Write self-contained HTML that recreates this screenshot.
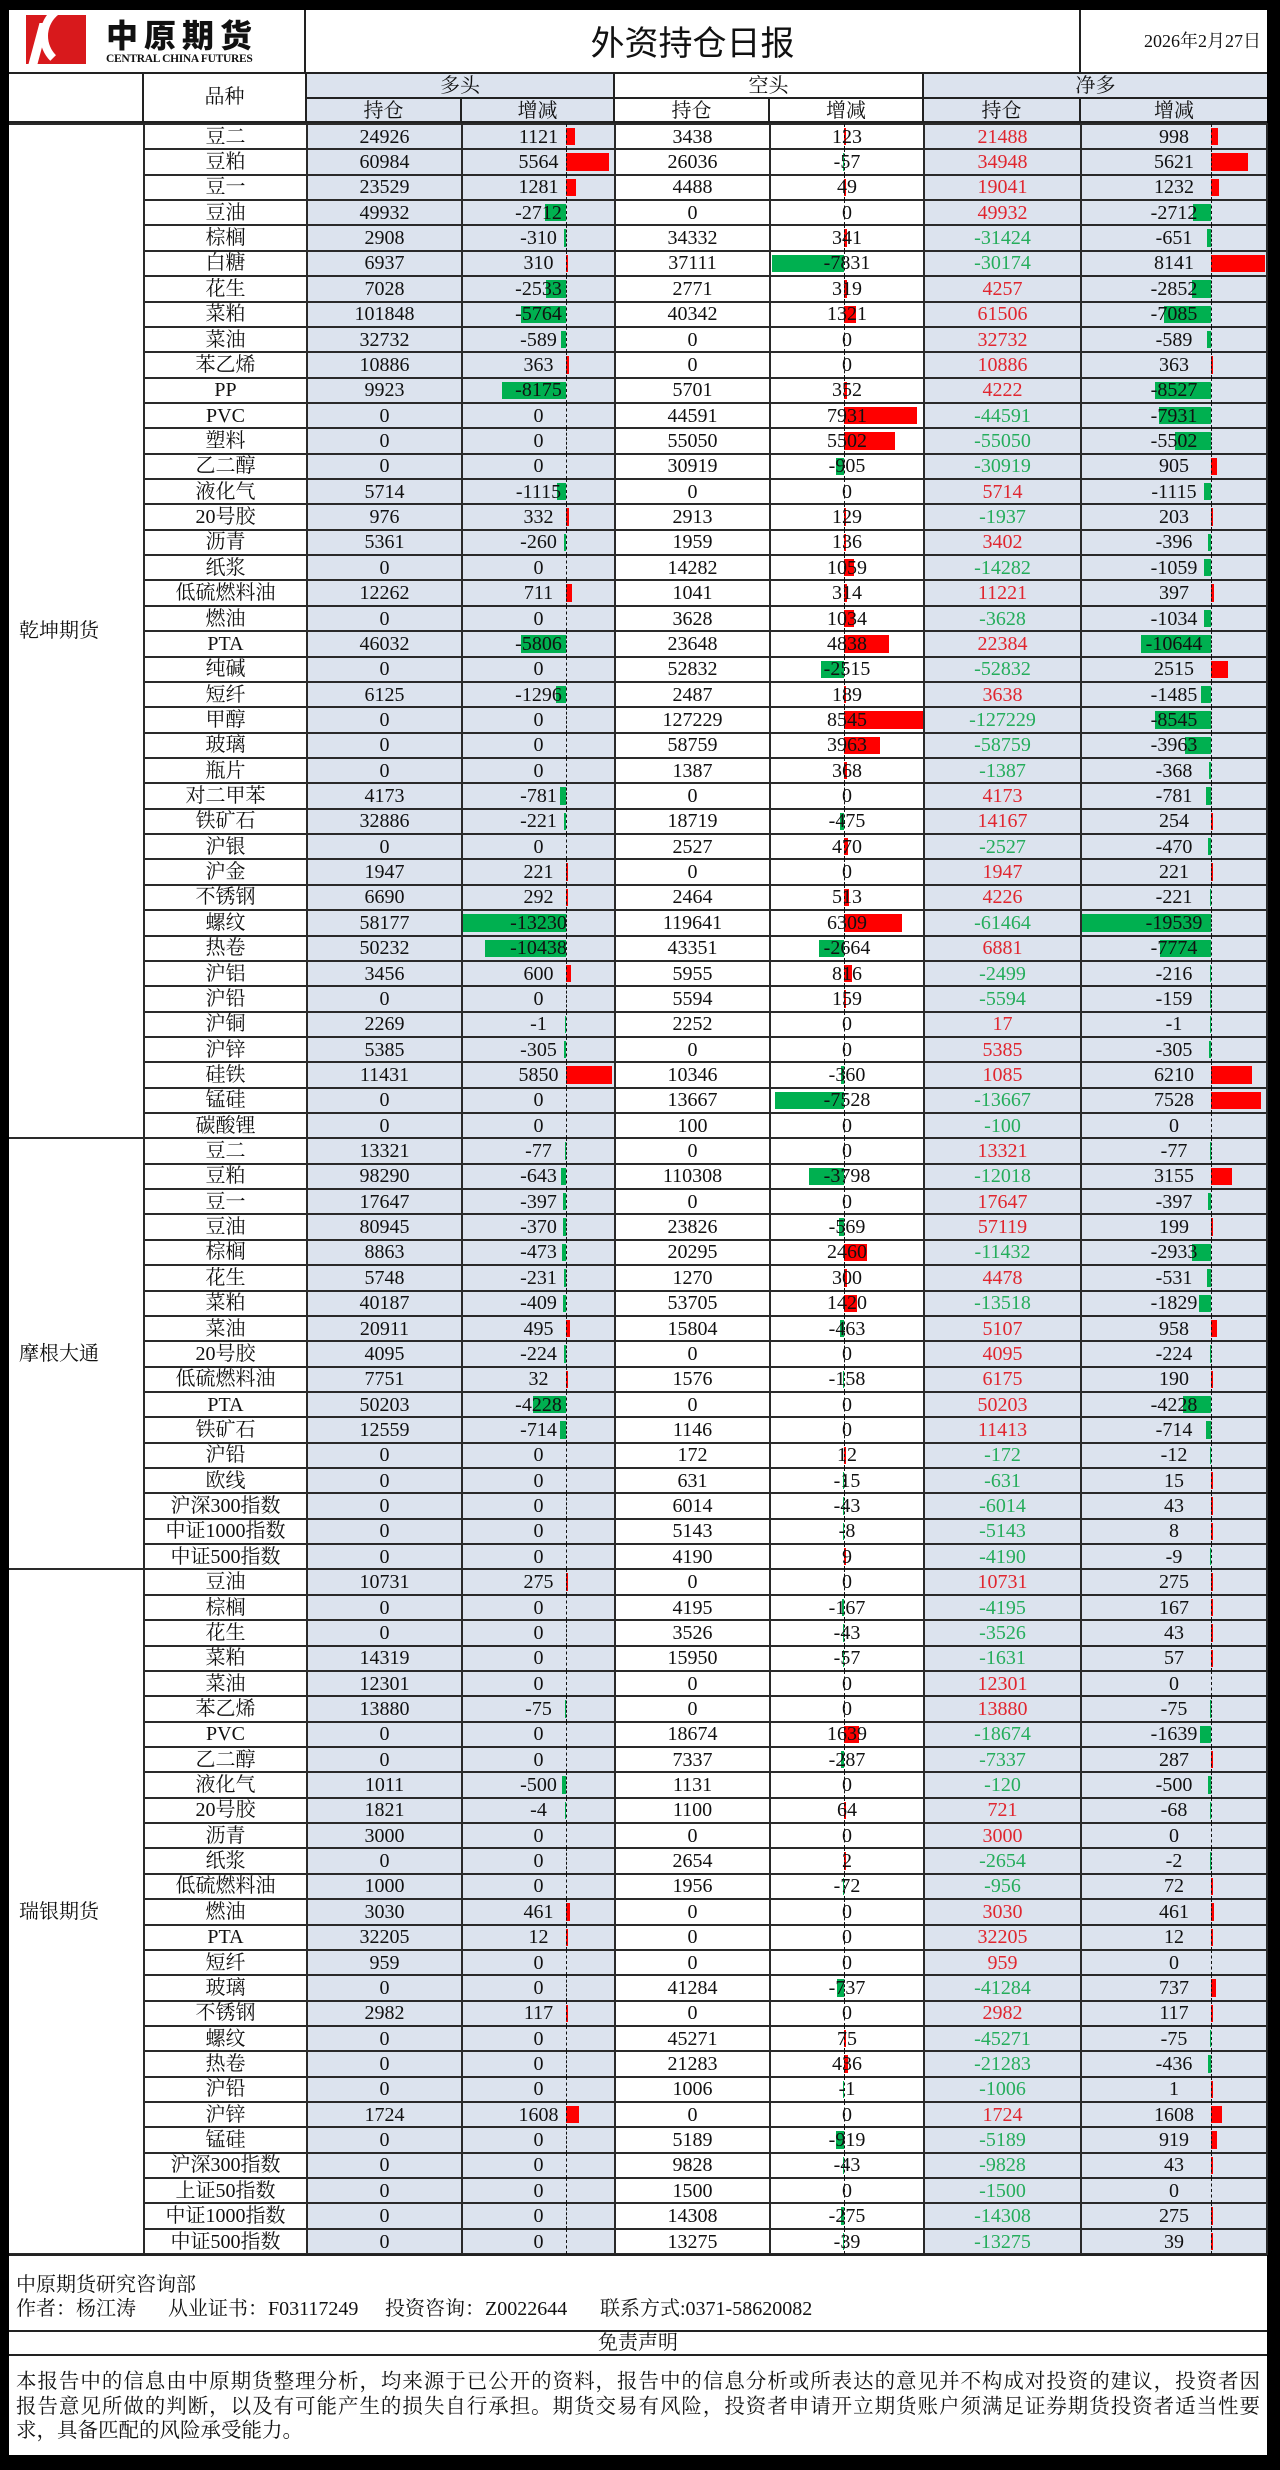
<!DOCTYPE html>
<html><head><meta charset="utf-8">
<style>
*{margin:0;padding:0;box-sizing:border-box}
body{width:1280px;height:2470px;background:#000;position:relative;overflow:hidden;font-family:"Liberation Serif","Noto Serif CJK SC",serif;color:#111}
.abs{position:absolute}
#top{left:9px;top:10px;width:1258px;height:62px;background:#fff}
.hb{position:absolute;top:0;height:62px;border-right:2px solid #222}
#hdr{left:9px;top:72px;width:1258px;height:51px;background:#fff;border-top:2px solid #222}
.hc{position:absolute;text-align:center;font-size:20px;line-height:24px;border-right:2px solid #222;border-bottom:2px solid #222}
.blue{background:#dce3ee}
table{position:absolute;left:9px;top:123px;width:1258px;border-collapse:collapse;table-layout:fixed;background:#fff}
td{border:2px solid #2a2a2a;text-align:center;font-size:20px;line-height:20px;height:25.37px;padding:0;position:relative;white-space:nowrap}
td.g{text-align:left;padding-left:10px;vertical-align:middle;border-left:none}
td.b{background:#dce3ee}
td span.t{position:relative;z-index:1}
.bar{position:absolute;top:3px;bottom:3px;z-index:0}
.ax{position:absolute;top:-1px;bottom:-1px;border-left:1.5px dashed #111;z-index:2}
.r{color:#e0262f}.gn{color:#25ad5c}
#foot{left:9px;top:2254px;width:1258px;height:201px;background:#fff;border-top:2px solid #222}
</style></head><body>
<div id="top" class="abs">
  <div class="hb" style="left:0;width:297px;">
    <div class="abs" style="left:17px;top:5px;width:60px;height:49px;background:#d8191c;overflow:hidden">
      <div class="abs" style="left:14px;top:-14px;width:70px;height:70px;border-radius:50%;border:8px solid #fff;border-right-color:transparent;border-bottom-color:transparent"></div>
      <div class="abs" style="left:8px;top:8px;width:9px;height:41px;background:#fff;transform:skewX(-15deg)"></div>
    </div>
    <div class="abs" style="left:97px;top:5px;font-family:'Noto Sans CJK SC',sans-serif;font-weight:900;font-size:32px;letter-spacing:6px;line-height:38px">中原期货</div>
    <div class="abs" style="left:97px;top:42px;font-family:'Liberation Serif',serif;font-weight:bold;font-size:11.5px;letter-spacing:-0.3px;line-height:14px">CENTRAL CHINA FUTURES</div>
  </div>
  <div class="hb" style="left:297px;width:775px;text-align:center;font-size:34px;line-height:62px;font-family:'Noto Sans CJK SC',sans-serif">外资持仓日报</div>
  <div class="abs" style="left:1072px;width:186px;top:0;height:62px;text-align:right;padding-right:6px;font-size:18px;line-height:62px">2026年2月27日</div>
</div>
<div id="hdr" class="abs">
  <div class="hc" style="left:0;top:0;width:135px;height:49px;border-bottom:2px solid #222"></div>
  <div class="hc" style="left:135px;top:0;width:163px;height:49px;line-height:46px;border-bottom:2px solid #222">品种</div>
  <div class="hc blue" style="left:298px;top:0;width:308px;height:25px">多头</div>
  <div class="hc" style="left:606px;top:0;width:309px;height:25px">空头</div>
  <div class="hc blue" style="left:915px;top:0;width:343px;height:25px;border-right:none">净多</div>
  <div class="hc blue" style="left:298px;top:25px;width:155px;height:24px">持仓</div>
  <div class="hc blue" style="left:453px;top:25px;width:153px;height:24px">增减</div>
  <div class="hc" style="left:606px;top:25px;width:155px;height:24px">持仓</div>
  <div class="hc" style="left:761px;top:25px;width:154px;height:24px">增减</div>
  <div class="hc blue" style="left:915px;top:25px;width:157px;height:24px">持仓</div>
  <div class="hc blue" style="left:1072px;top:25px;width:186px;height:24px;border-right:none">增减</div>
</div>
<table id="tb">
<colgroup><col style="width:135px"><col style="width:163px"><col style="width:155px"><col style="width:153px"><col style="width:155px"><col style="width:154px"><col style="width:157px"><col style="width:186px"></colgroup>
<tbody>
<tr><td rowspan="40" class="g">乾坤期货</td><td>豆二</td><td>24926</td><td>1121</td><td>3438</td><td>123</td><td>21488</td><td>998</td></tr>
<tr><td>豆粕</td><td>60984</td><td>5564</td><td>26036</td><td>-57</td><td>34948</td><td>5621</td></tr>
<tr><td>豆一</td><td>23529</td><td>1281</td><td>4488</td><td>49</td><td>19041</td><td>1232</td></tr>
<tr><td>豆油</td><td>49932</td><td>-2712</td><td>0</td><td>0</td><td>49932</td><td>-2712</td></tr>
<tr><td>棕榈</td><td>2908</td><td>-310</td><td>34332</td><td>341</td><td>-31424</td><td>-651</td></tr>
<tr><td>白糖</td><td>6937</td><td>310</td><td>37111</td><td>-7831</td><td>-30174</td><td>8141</td></tr>
<tr><td>花生</td><td>7028</td><td>-2533</td><td>2771</td><td>319</td><td>4257</td><td>-2852</td></tr>
<tr><td>菜粕</td><td>101848</td><td>-5764</td><td>40342</td><td>1321</td><td>61506</td><td>-7085</td></tr>
<tr><td>菜油</td><td>32732</td><td>-589</td><td>0</td><td>0</td><td>32732</td><td>-589</td></tr>
<tr><td>苯乙烯</td><td>10886</td><td>363</td><td>0</td><td>0</td><td>10886</td><td>363</td></tr>
<tr><td>PP</td><td>9923</td><td>-8175</td><td>5701</td><td>352</td><td>4222</td><td>-8527</td></tr>
<tr><td>PVC</td><td>0</td><td>0</td><td>44591</td><td>7931</td><td>-44591</td><td>-7931</td></tr>
<tr><td>塑料</td><td>0</td><td>0</td><td>55050</td><td>5502</td><td>-55050</td><td>-5502</td></tr>
<tr><td>乙二醇</td><td>0</td><td>0</td><td>30919</td><td>-905</td><td>-30919</td><td>905</td></tr>
<tr><td>液化气</td><td>5714</td><td>-1115</td><td>0</td><td>0</td><td>5714</td><td>-1115</td></tr>
<tr><td>20号胶</td><td>976</td><td>332</td><td>2913</td><td>129</td><td>-1937</td><td>203</td></tr>
<tr><td>沥青</td><td>5361</td><td>-260</td><td>1959</td><td>136</td><td>3402</td><td>-396</td></tr>
<tr><td>纸浆</td><td>0</td><td>0</td><td>14282</td><td>1059</td><td>-14282</td><td>-1059</td></tr>
<tr><td>低硫燃料油</td><td>12262</td><td>711</td><td>1041</td><td>314</td><td>11221</td><td>397</td></tr>
<tr><td>燃油</td><td>0</td><td>0</td><td>3628</td><td>1034</td><td>-3628</td><td>-1034</td></tr>
<tr><td>PTA</td><td>46032</td><td>-5806</td><td>23648</td><td>4838</td><td>22384</td><td>-10644</td></tr>
<tr><td>纯碱</td><td>0</td><td>0</td><td>52832</td><td>-2515</td><td>-52832</td><td>2515</td></tr>
<tr><td>短纤</td><td>6125</td><td>-1296</td><td>2487</td><td>189</td><td>3638</td><td>-1485</td></tr>
<tr><td>甲醇</td><td>0</td><td>0</td><td>127229</td><td>8545</td><td>-127229</td><td>-8545</td></tr>
<tr><td>玻璃</td><td>0</td><td>0</td><td>58759</td><td>3963</td><td>-58759</td><td>-3963</td></tr>
<tr><td>瓶片</td><td>0</td><td>0</td><td>1387</td><td>368</td><td>-1387</td><td>-368</td></tr>
<tr><td>对二甲苯</td><td>4173</td><td>-781</td><td>0</td><td>0</td><td>4173</td><td>-781</td></tr>
<tr><td>铁矿石</td><td>32886</td><td>-221</td><td>18719</td><td>-475</td><td>14167</td><td>254</td></tr>
<tr><td>沪银</td><td>0</td><td>0</td><td>2527</td><td>470</td><td>-2527</td><td>-470</td></tr>
<tr><td>沪金</td><td>1947</td><td>221</td><td>0</td><td>0</td><td>1947</td><td>221</td></tr>
<tr><td>不锈钢</td><td>6690</td><td>292</td><td>2464</td><td>513</td><td>4226</td><td>-221</td></tr>
<tr><td>螺纹</td><td>58177</td><td>-13230</td><td>119641</td><td>6309</td><td>-61464</td><td>-19539</td></tr>
<tr><td>热卷</td><td>50232</td><td>-10438</td><td>43351</td><td>-2664</td><td>6881</td><td>-7774</td></tr>
<tr><td>沪铝</td><td>3456</td><td>600</td><td>5955</td><td>816</td><td>-2499</td><td>-216</td></tr>
<tr><td>沪铅</td><td>0</td><td>0</td><td>5594</td><td>159</td><td>-5594</td><td>-159</td></tr>
<tr><td>沪铜</td><td>2269</td><td>-1</td><td>2252</td><td>0</td><td>17</td><td>-1</td></tr>
<tr><td>沪锌</td><td>5385</td><td>-305</td><td>0</td><td>0</td><td>5385</td><td>-305</td></tr>
<tr><td>硅铁</td><td>11431</td><td>5850</td><td>10346</td><td>-360</td><td>1085</td><td>6210</td></tr>
<tr><td>锰硅</td><td>0</td><td>0</td><td>13667</td><td>-7528</td><td>-13667</td><td>7528</td></tr>
<tr><td>碳酸锂</td><td>0</td><td>0</td><td>100</td><td>0</td><td>-100</td><td>0</td></tr>
<tr><td rowspan="17" class="g">摩根大通</td><td>豆二</td><td>13321</td><td>-77</td><td>0</td><td>0</td><td>13321</td><td>-77</td></tr>
<tr><td>豆粕</td><td>98290</td><td>-643</td><td>110308</td><td>-3798</td><td>-12018</td><td>3155</td></tr>
<tr><td>豆一</td><td>17647</td><td>-397</td><td>0</td><td>0</td><td>17647</td><td>-397</td></tr>
<tr><td>豆油</td><td>80945</td><td>-370</td><td>23826</td><td>-569</td><td>57119</td><td>199</td></tr>
<tr><td>棕榈</td><td>8863</td><td>-473</td><td>20295</td><td>2460</td><td>-11432</td><td>-2933</td></tr>
<tr><td>花生</td><td>5748</td><td>-231</td><td>1270</td><td>300</td><td>4478</td><td>-531</td></tr>
<tr><td>菜粕</td><td>40187</td><td>-409</td><td>53705</td><td>1420</td><td>-13518</td><td>-1829</td></tr>
<tr><td>菜油</td><td>20911</td><td>495</td><td>15804</td><td>-463</td><td>5107</td><td>958</td></tr>
<tr><td>20号胶</td><td>4095</td><td>-224</td><td>0</td><td>0</td><td>4095</td><td>-224</td></tr>
<tr><td>低硫燃料油</td><td>7751</td><td>32</td><td>1576</td><td>-158</td><td>6175</td><td>190</td></tr>
<tr><td>PTA</td><td>50203</td><td>-4228</td><td>0</td><td>0</td><td>50203</td><td>-4228</td></tr>
<tr><td>铁矿石</td><td>12559</td><td>-714</td><td>1146</td><td>0</td><td>11413</td><td>-714</td></tr>
<tr><td>沪铅</td><td>0</td><td>0</td><td>172</td><td>12</td><td>-172</td><td>-12</td></tr>
<tr><td>欧线</td><td>0</td><td>0</td><td>631</td><td>-15</td><td>-631</td><td>15</td></tr>
<tr><td>沪深300指数</td><td>0</td><td>0</td><td>6014</td><td>-43</td><td>-6014</td><td>43</td></tr>
<tr><td>中证1000指数</td><td>0</td><td>0</td><td>5143</td><td>-8</td><td>-5143</td><td>8</td></tr>
<tr><td>中证500指数</td><td>0</td><td>0</td><td>4190</td><td>9</td><td>-4190</td><td>-9</td></tr>
<tr><td rowspan="27" class="g">瑞银期货</td><td>豆油</td><td>10731</td><td>275</td><td>0</td><td>0</td><td>10731</td><td>275</td></tr>
<tr><td>棕榈</td><td>0</td><td>0</td><td>4195</td><td>-167</td><td>-4195</td><td>167</td></tr>
<tr><td>花生</td><td>0</td><td>0</td><td>3526</td><td>-43</td><td>-3526</td><td>43</td></tr>
<tr><td>菜粕</td><td>14319</td><td>0</td><td>15950</td><td>-57</td><td>-1631</td><td>57</td></tr>
<tr><td>菜油</td><td>12301</td><td>0</td><td>0</td><td>0</td><td>12301</td><td>0</td></tr>
<tr><td>苯乙烯</td><td>13880</td><td>-75</td><td>0</td><td>0</td><td>13880</td><td>-75</td></tr>
<tr><td>PVC</td><td>0</td><td>0</td><td>18674</td><td>1639</td><td>-18674</td><td>-1639</td></tr>
<tr><td>乙二醇</td><td>0</td><td>0</td><td>7337</td><td>-287</td><td>-7337</td><td>287</td></tr>
<tr><td>液化气</td><td>1011</td><td>-500</td><td>1131</td><td>0</td><td>-120</td><td>-500</td></tr>
<tr><td>20号胶</td><td>1821</td><td>-4</td><td>1100</td><td>64</td><td>721</td><td>-68</td></tr>
<tr><td>沥青</td><td>3000</td><td>0</td><td>0</td><td>0</td><td>3000</td><td>0</td></tr>
<tr><td>纸浆</td><td>0</td><td>0</td><td>2654</td><td>2</td><td>-2654</td><td>-2</td></tr>
<tr><td>低硫燃料油</td><td>1000</td><td>0</td><td>1956</td><td>-72</td><td>-956</td><td>72</td></tr>
<tr><td>燃油</td><td>3030</td><td>461</td><td>0</td><td>0</td><td>3030</td><td>461</td></tr>
<tr><td>PTA</td><td>32205</td><td>12</td><td>0</td><td>0</td><td>32205</td><td>12</td></tr>
<tr><td>短纤</td><td>959</td><td>0</td><td>0</td><td>0</td><td>959</td><td>0</td></tr>
<tr><td>玻璃</td><td>0</td><td>0</td><td>41284</td><td>-737</td><td>-41284</td><td>737</td></tr>
<tr><td>不锈钢</td><td>2982</td><td>117</td><td>0</td><td>0</td><td>2982</td><td>117</td></tr>
<tr><td>螺纹</td><td>0</td><td>0</td><td>45271</td><td>75</td><td>-45271</td><td>-75</td></tr>
<tr><td>热卷</td><td>0</td><td>0</td><td>21283</td><td>436</td><td>-21283</td><td>-436</td></tr>
<tr><td>沪铅</td><td>0</td><td>0</td><td>1006</td><td>-1</td><td>-1006</td><td>1</td></tr>
<tr><td>沪锌</td><td>1724</td><td>1608</td><td>0</td><td>0</td><td>1724</td><td>1608</td></tr>
<tr><td>锰硅</td><td>0</td><td>0</td><td>5189</td><td>-919</td><td>-5189</td><td>919</td></tr>
<tr><td>沪深300指数</td><td>0</td><td>0</td><td>9828</td><td>-43</td><td>-9828</td><td>43</td></tr>
<tr><td>上证50指数</td><td>0</td><td>0</td><td>1500</td><td>0</td><td>-1500</td><td>0</td></tr>
<tr><td>中证1000指数</td><td>0</td><td>0</td><td>14308</td><td>-275</td><td>-14308</td><td>275</td></tr>
<tr><td>中证500指数</td><td>0</td><td>0</td><td>13275</td><td>-39</td><td>-13275</td><td>39</td></tr>
</tbody></table>
<div id="foot" class="abs">
  <div class="abs" style="left:7px;top:17px;font-size:20px;line-height:24px">中原期货研究咨询部</div>
  <div class="abs" style="left:7px;top:41px;font-size:20px;line-height:24px">作者：杨江涛</div>
  <div class="abs" style="left:159px;top:41px;font-size:20px;line-height:24px">从业证书：F03117249</div>
  <div class="abs" style="left:376px;top:41px;font-size:20px;line-height:24px">投资咨询：Z0022644</div>
  <div class="abs" style="left:591px;top:41px;font-size:20px;line-height:24px">联系方式:0371-58620082</div>
  <div class="abs" style="left:0;top:74px;width:1258px;height:26px;border-top:2px solid #222;border-bottom:2px solid #222;text-align:center;font-size:20px;line-height:22px">免责声明</div>
  <div class="abs" style="left:7px;top:114px;width:1244px;font-size:20.5px;line-height:24.5px">
    <div style="text-align-last:justify">本报告中的信息由中原期货整理分析，均来源于已公开的资料，报告中的信息分析或所表达的意见并不构成对投资的建议，投资者因</div>
    <div style="text-align-last:justify">报告意见所做的判断，以及有可能产生的损失自行承担。期货交易有风险，投资者申请开立期货账户须满足证券期货投资者适当性要</div>
    <div>求，具备匹配的风险承受能力。</div>
  </div>
</div>
<script>
(function(){
 var rows=document.querySelectorAll('#tb tr');
 var cfg={1:[103,0.0078],3:[73,0.0092],5:[129,0.0066]};
 rows.forEach(function(tr){
  var tds=tr.querySelectorAll('td:not(.g)');
  tds.forEach(function(td,i){
   if(i==0)return;
   var k=i-1;
   var txt=td.textContent;td.textContent='';
   var s=document.createElement('span');s.className='t';s.textContent=txt;
   if(k==0||k==1||k==4||k==5)td.classList.add('b');
   if(k==4){s.className+=(parseFloat(txt)<0?' gn':' r');}
   if(cfg[k]){
    var v=parseFloat(txt),ax=cfg[k][0],sc=cfg[k][1];
    if(v!==0){var b=document.createElement('span');b.className='bar';var w=Math.max(1.5,Math.abs(v)*sc);
     b.style.background=v>0?'#ff0000':'#00b050';b.style.width=w+'px';b.style.left=(v>0?ax:ax-w)+'px';td.appendChild(b);}
    var a=document.createElement('span');a.className='ax';a.style.left=ax+'px';td.appendChild(a);
   }
   td.appendChild(s);
  });
 });
})();
</script>
</body></html>
